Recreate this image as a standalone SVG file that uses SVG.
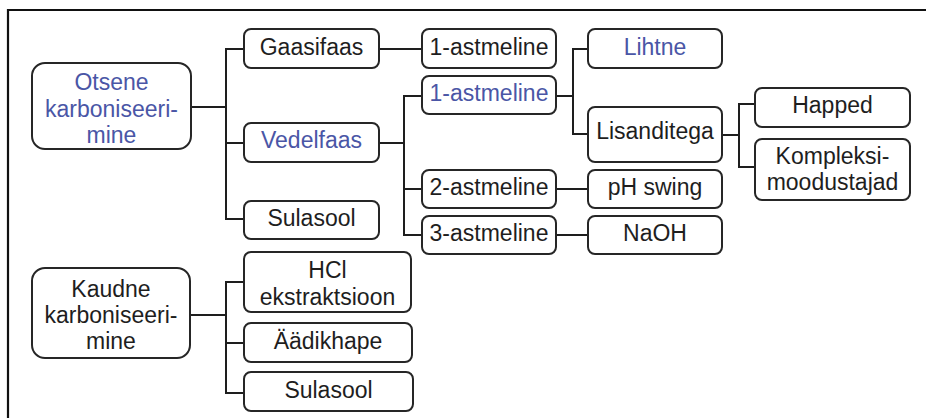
<svg xmlns="http://www.w3.org/2000/svg" width="926" height="418" viewBox="0 0 926 418">
<style>
.box{fill:#fff;stroke:#262626;stroke-width:2}
.t{font-family:"Liberation Sans",Arial,sans-serif;font-size:23px;fill:#1e1e1e;text-anchor:middle}
.b{fill:#4a56a6}
.c{fill:none;stroke:#1e1e1e;stroke-width:2}
</style>
<rect width="926" height="418" fill="#fff"/>
<path d="M8,418 V10 H926" fill="none" stroke="#111" stroke-width="2.2"/>
<g id="connectors">
<path class="c" d="M191,107 H226 M244,49 H226 V219 H244 M226,143 H244"/>
<path class="c" d="M379,49 H422"/>
<path class="c" d="M379,143 H404 M422,96 H404 V235 H422 M404,189 H422"/>
<path class="c" d="M556,96 H573 M588,49 H573 V134 H588"/>
<path class="c" d="M722,135 H739 M755,104 H739 V167 H755"/>
<path class="c" d="M556,189 H588 M556,235 H588"/>
<path class="c" d="M190,315 H226 M244,282 H226 V393 H244 M226,343 H244"/>
</g>
<g id="otsene"><rect class="box" x="32" y="63" width="159" height="86" rx="13"/>
<text class="t b" x="111.5" y="90">Otsene</text><text class="t b" x="111.5" y="116.5">karboniseeri-</text><text class="t b" x="111.5" y="143">mine</text></g>
<g id="gaasifaas"><rect class="box" x="244" y="29" width="135" height="39" rx="7"/><text class="t" x="311.5" y="55">Gaasifaas</text></g>
<g id="vedelfaas"><rect class="box" x="244" y="123" width="135" height="39" rx="7"/><text class="t b" x="311.5" y="148">Vedelfaas</text></g>
<g id="sulasool1"><rect class="box" x="244" y="201" width="135" height="38" rx="7"/><text class="t" x="311.5" y="226">Sulasool</text></g>
<g id="gaas-1aste"><rect class="box" x="422" y="29" width="134" height="39" rx="7"/><text class="t" x="489" y="55">1-astmeline</text></g>
<g id="vedel-1aste"><rect class="box" x="422" y="76" width="134" height="38" rx="7"/><text class="t b" x="489" y="101">1-astmeline</text></g>
<g id="vedel-2aste"><rect class="box" x="422" y="170" width="134" height="38" rx="7"/><text class="t" x="489" y="195">2-astmeline</text></g>
<g id="vedel-3aste"><rect class="box" x="422" y="216" width="134" height="38" rx="7"/><text class="t" x="489" y="241">3-astmeline</text></g>
<g id="lihtne"><rect class="box" x="588" y="29" width="134" height="39" rx="7"/><text class="t b" x="655" y="55">Lihtne</text></g>
<g id="lisanditega"><rect class="box" x="588" y="107" width="134" height="55" rx="7"/><text class="t" x="655" y="139">Lisanditega</text></g>
<g id="phswing"><rect class="box" x="588" y="170" width="134" height="38" rx="7"/><text class="t" x="655" y="195">pH swing</text></g>
<g id="naoh"><rect class="box" x="588" y="216" width="134" height="38" rx="7"/><text class="t" x="655" y="241">NaOH</text></g>
<g id="happed"><rect class="box" x="755" y="88" width="155" height="39" rx="7"/><text class="t" x="832.5" y="113">Happed</text></g>
<g id="kompleksi"><rect class="box" x="755" y="139" width="155" height="61" rx="7"/><text class="t" x="832.5" y="164">Kompleksi-</text><text class="t" x="832.5" y="190">moodustajad</text></g>
<g id="kaudne"><rect class="box" x="32" y="268" width="158" height="90" rx="13"/>
<text class="t" x="111" y="297">Kaudne</text><text class="t" x="111" y="322.5">karboniseeri-</text><text class="t" x="111" y="348.5">mine</text></g>
<g id="hcl"><rect class="box" x="244" y="252" width="167" height="60" rx="7"/><text class="t" x="327.5" y="278">HCl</text><text class="t" x="327.5" y="305">ekstraktsioon</text></g>
<g id="aadikhape"><rect class="box" x="244" y="323" width="168" height="39" rx="7"/><text class="t" x="328" y="349">Äädikhape</text></g>
<g id="sulasool2"><rect class="box" x="244" y="372" width="169" height="39" rx="7"/><text class="t" x="328.5" y="398">Sulasool</text></g>
</svg>
